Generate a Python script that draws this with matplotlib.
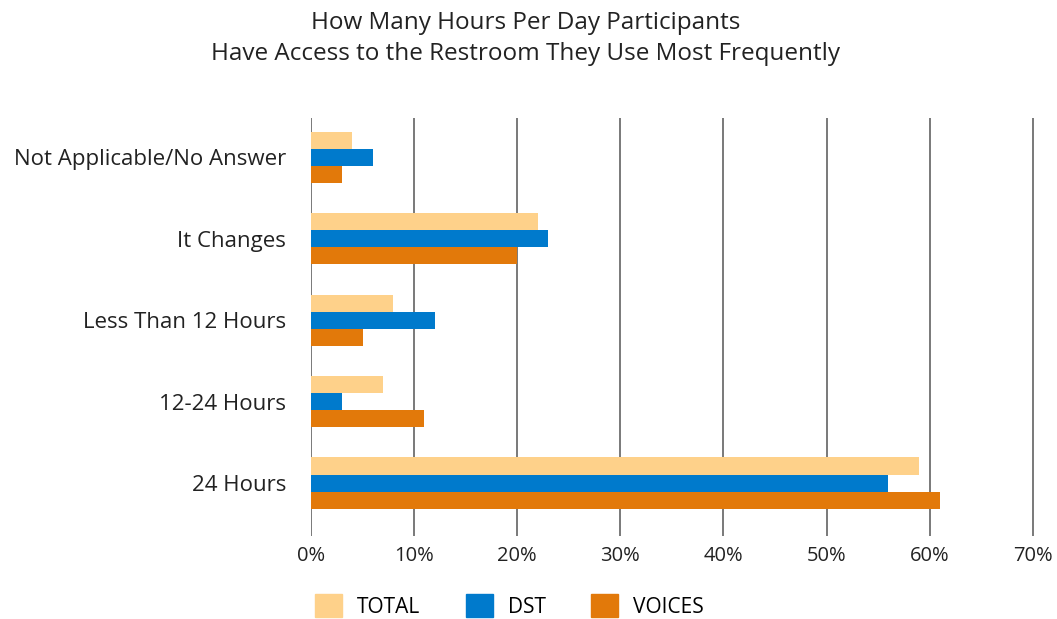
import matplotlib
matplotlib.use("Agg")
import matplotlib.pyplot as plt
import numpy as np
from matplotlib.patches import Patch

categories = ["Not Applicable/No Answer", "It Changes", "Less Than 12 Hours", "12-24 Hours", "24 Hours"]
series_names = ["TOTAL", "DST", "VOICES"]
total = [4, 22, 8, 7, 59]
dst = [6, 23, 12, 3, 56]
voices = [3, 20, 5, 11, 61]
xticks = [0, 10, 20, 30, 40, 50, 60, 70]
colors = ["#FED18A", "#007ACC", "#E2790A"]

plt.rcParams['font.family'] = ['Open Sans', 'DejaVu Sans']

fig = plt.figure(figsize=(10.57, 6.19), dpi=100)
ax = fig.add_axes([0.2942, 0.134, 0.6838, 0.675])

n = len(categories)
y = np.arange(n)
h = 0.21
for i, (vals, c) in enumerate(zip([total, dst, voices], colors)):
    ax.barh(y + (i - 1) * h, vals, height=h, color=c, zorder=3)

ax.set_ylim(n - 1 + 0.65, -0.48)
ax.set_xlim(0, 70.1)
ax.set_xticks(xticks)
ax.set_xticklabels([f"{v}%" for v in xticks], fontsize=14.5, color="#222222")
ax.set_yticks(y)
ax.set_yticklabels(categories, fontsize=16, color="#222222")
ax.tick_params(axis='both', length=0)
ax.tick_params(axis='x', pad=7)
ax.tick_params(axis='y', pad=18)
for s in ax.spines.values():
    s.set_visible(False)
for xv in xticks:
    ax.axvline(xv, color="#6e6e6e", lw=1.3, zorder=2)

fig.suptitle("How Many Hours Per Day Participants\nHave Access to the Restroom They Use Most Frequently",
             fontsize=17.5, x=0.497, y=0.982, color="#222222", linespacing=1.4)

handles = [Patch(color=c) for c in colors]
fig.legend(handles, series_names, loc="lower center", bbox_to_anchor=(0.482, -0.028), ncol=3,
           frameon=False, fontsize=15, handlelength=1.3, handleheight=1.3,
           columnspacing=2.2, handletextpad=0.7)

fig.savefig("out.png", dpi=100)
